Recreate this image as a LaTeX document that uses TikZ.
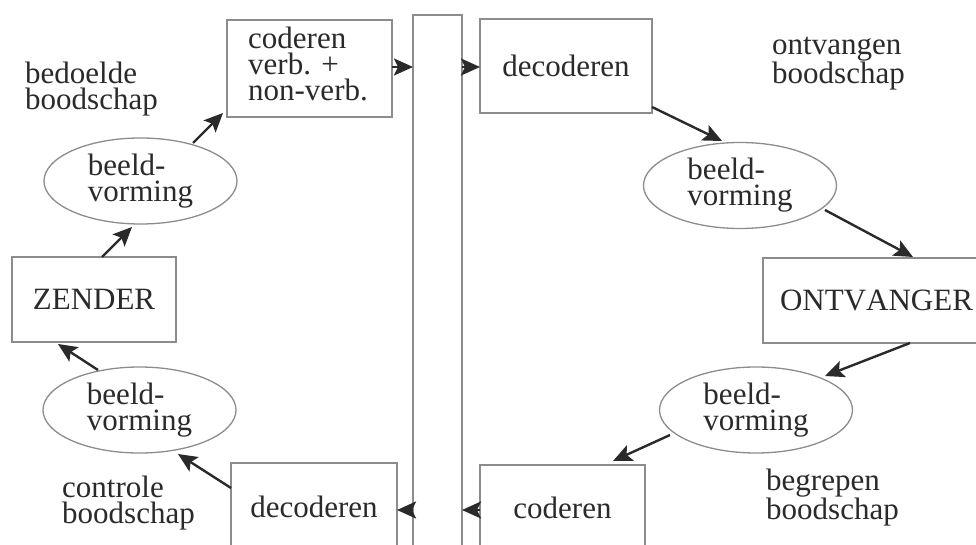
\documentclass[tikz,border=0pt]{standalone}
\usepackage{fontspec}
\setmainfont{Liberation Serif}
\usetikzlibrary{arrows.meta,shapes.geometric}
\definecolor{ink}{HTML}{2A2A2A}
\definecolor{frame}{HTML}{8C8C8C}
\begin{document}
\begin{tikzpicture}[x=1pt,y=-1pt,
  font=\fontsize{31}{26}\selectfont, text=ink,
  box/.style={draw=frame,line width=1.3pt,rectangle,inner sep=0pt},
  oval/.style={draw=frame,line width=1.3pt,ellipse,inner sep=0pt,minimum width=193pt,minimum height=86pt,align=left},
  lbl/.style={inner sep=0pt,align=left,anchor=north west},
  conn/.style={draw=ink,line width=2.4pt,-{Stealth[length=19pt,width=17pt,inset=4pt]}}]
\path[use as bounding box] (0,0) rectangle (976,545);
\clip (0,0) rectangle (976,545);
% channel
\node[box,minimum width=49pt,minimum height=545pt] (chan) at (437.5,287.5) {};
% boxes
\node[box,minimum width=165pt,minimum height=97pt] (cod) at (309.5,68.5) {};
\node[inner sep=0pt,align=left] (codt) at (308,63.5) {coderen\\verb. +\\non-verb.};
\node[box,minimum width=172pt,minimum height=94pt] (dec1) at (566,66) {decoderen};
\node[box,minimum width=164pt,minimum height=85pt] (zender) at (94,299.5) {ZENDER};
\node[box,minimum width=227pt,minimum height=85pt] (ontv) at (876.5,300.5) {\addfontfeatures{Kerning=Off}ONTVANGER};
\node[box,minimum width=166pt,minimum height=88pt] (dec2) at (314,507) {decoderen};
\node[box,minimum width=165pt,minimum height=86pt] (cod2) at (562.5,508) {coderen};
% ellipses
\node[oval] (e1) at (140.5,181) {beeld-\\vorming};
\node[oval] (e2) at (139.5,410) {beeld-\\vorming};
\node[oval] (e3) at (740,185.5) {beeld-\\vorming};
\node[oval] (e4) at (756,410) {beeld-\\vorming};
% free labels
\node[lbl] (l1) at (25,62) {bedoelde\\boodschap};
\node[lbl] (l2) at (772,37) {ontvangen\\boodschap};
\node[lbl] (l3) at (62,476) {controle\\boodschap};
\node[lbl] (l4) at (766,469) {begrepen\\boodschap};
% connectors
\draw[conn] ([shift={(52.5,-38)}]e1.center) -- ([shift={(-86.5,44.5)}]cod.center);
\draw[conn] ([shift={(8,-42.5)}]zender.center) -- ([shift={(-8.5,46)}]e1.center);
\draw[conn] ([shift={(-41.5,-40)}]e2.center) -- ([shift={(-36,44.5)}]zender.center);
\draw[conn] ([shift={(-83,-19)}]dec2.center) -- ([shift={(38.5,44)}]e2.center);
\draw[conn] ([shift={(82.5,-1.5)}]cod.center) -- ([shift={(-24.5,-220.5)}]chan.center);
\draw[conn] ([shift={(24.5,-220.5)}]chan.center) -- ([shift={(-86,1)}]dec1.center);
\draw[conn] ([shift={(86,41)}]dec1.center) -- ([shift={(-18,-44.5)}]e3.center);
\draw[conn] ([shift={(85,24.5)}]e3.center) -- ([shift={(36.5,-43.5)}]ontv.center);
\draw[conn] ([shift={(33.5,42.5)}]ontv.center) -- ([shift={(69,-34)}]e4.center);
\draw[conn] ([shift={(-86,25)}]e4.center) -- ([shift={(50.5,-47)}]cod2.center);
\draw[conn] ([shift={(-82.5,2)}]cod2.center) -- ([shift={(24.5,222.5)}]chan.center);
\draw[conn] ([shift={(-24.5,222.5)}]chan.center) -- ([shift={(83,3)}]dec2.center);
\end{tikzpicture}
\end{document}
